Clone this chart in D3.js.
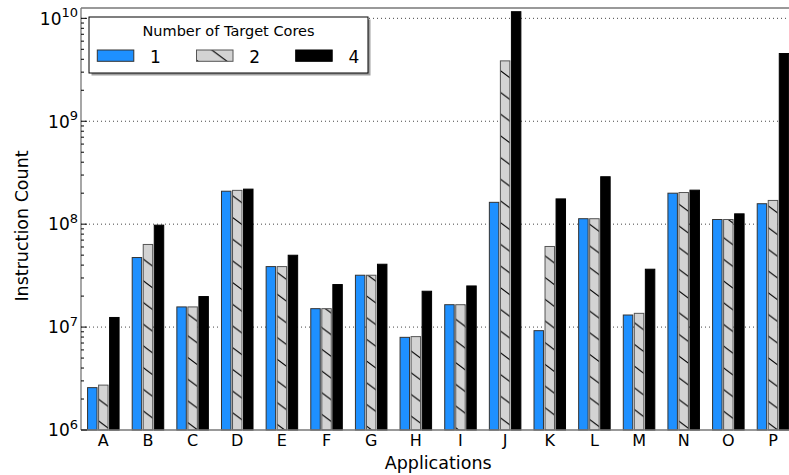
<!DOCTYPE html>
<html>
<head>
<meta charset="utf-8">
<script src="https://cdn.jsdelivr.net/npm/d3@7/dist/d3.min.js"></script>
<style>
  html, body { margin: 0; padding: 0; background: #fff; }
  svg { display: block; font-family: "DejaVu Sans", sans-serif; }
</style>
</head>
<body>
<svg id="chart" width="789" height="475"></svg>
<script>
// ---- data ----
const categories = ["A","B","C","D","E","F","G","H","I","J","K","L","M","N","O","P"];
const cores1 = [2.58e6, 4.74e7, 1.57e7, 2.09e8, 3.87e7, 1.51e7, 3.19e7, 7.95e6, 1.65e7, 1.63e8, 9.23e6, 1.13e8, 1.31e7, 2.00e8, 1.11e8, 1.58e8];
const cores2 = [2.73e6, 6.35e7, 1.57e7, 2.13e8, 3.87e7, 1.51e7, 3.19e7, 8.08e6, 1.65e7, 3.86e9, 6.07e7, 1.13e8, 1.36e7, 2.03e8, 1.11e8, 1.70e8];
const cores4 = [1.24e7, 9.78e7, 1.98e7, 2.19e8, 4.99e7, 2.59e7, 4.08e7, 2.23e7, 2.51e7, 1.16e10, 1.76e8, 2.89e8, 3.65e7, 2.14e8, 1.26e8, 4.55e9];
const seriesNames = ["1", "2", "4"];
const yTickExponents = [6, 7, 8, 9, 10];
const yMin = 1e6, yMax = 1.26e10;

// ---- layout ----
const svg = d3.select("#chart");
const plot = { left: 81, right: 795.3, top: 8, bottom: 430 };

const x = d3.scaleLinear().domain([-0.5, categories.length - 0.5]).range([plot.left, plot.right]);
const y = d3.scaleLog().domain([yMin, yMax]).range([plot.bottom, plot.top]);

const unit = x(1) - x(0);
const barOffset = 0.247;   // in category units
const barWidth = 0.212;

// hatch pattern
const defs = svg.append("defs");
const pat = defs.append("pattern")
  .attr("id", "hatch")
  .attr("patternUnits", "userSpaceOnUse")
  .attr("width", 29).attr("height", 21.7);
pat.append("rect").attr("width", 29).attr("height", 21.7).attr("fill", "#d3d3d3");
pat.append("path").attr("d", "M-29,-21.7L58,43.4M-29,0L29,43.4M0,-21.7L58,21.7")
  .attr("stroke", "#000").attr("stroke-width", 1);

const styles = [
  { fill: "#1e90ff", stroke: "#333" },
  { fill: "url(#hatch)", stroke: "#555" },
  { fill: "#000", stroke: "#000" }
];
const series = [cores1, cores2, cores4];

// gridlines (behind bars)
svg.append("g").selectAll("line")
  .data(yTickExponents.filter(e => e > 6))
  .join("line")
  .attr("x1", plot.left).attr("x2", plot.right)
  .attr("y1", d => y(Math.pow(10, d))).attr("y2", d => y(Math.pow(10, d)))
  .attr("stroke", "#444").attr("stroke-width", 1)
  .attr("stroke-dasharray", "1,3");

// bars
series.forEach((vals, s) => {
  svg.append("g").selectAll("rect")
    .data(vals)
    .join("rect")
    .attr("x", (d, i) => x(i + (s - 1) * barOffset - barWidth / 2))
    .attr("width", barWidth * unit)
    .attr("y", d => y(d))
    .attr("height", d => y(yMin) - y(d))
    .attr("fill", styles[s].fill)
    .attr("stroke", styles[s].stroke)
    .attr("stroke-width", 1);
});

// frame
const frame = svg.append("g").attr("stroke", "#777").attr("stroke-width", 1.3).attr("fill", "none");
frame.append("line").attr("x1", plot.left).attr("x2", plot.right).attr("y1", plot.top).attr("y2", plot.top);
frame.append("line").attr("x1", plot.left).attr("x2", plot.right).attr("y1", plot.bottom).attr("y2", plot.bottom);
frame.append("line").attr("x1", plot.left).attr("x2", plot.left).attr("y1", plot.top).attr("y2", plot.bottom);

// y ticks (major + minor, inward)
const minorTicks = [];
for (let e = 6; e <= 10; e++) {
  for (let m = 2; m <= 9; m++) {
    const v = m * Math.pow(10, e);
    if (v < yMax) minorTicks.push(v);
  }
}
svg.append("g").selectAll("line").data(minorTicks).join("line")
  .attr("x1", plot.left).attr("x2", plot.left + 3)
  .attr("y1", d => y(d)).attr("y2", d => y(d))
  .attr("stroke", "#000").attr("stroke-width", 1);
svg.append("g").selectAll("line").data(yTickExponents).join("line")
  .attr("x1", plot.left).attr("x2", plot.left + 6)
  .attr("y1", d => y(Math.pow(10, d))).attr("y2", d => y(Math.pow(10, d)))
  .attr("stroke", "#000").attr("stroke-width", 1);

// y tick labels
const yl = svg.append("g").selectAll("text").data(yTickExponents).join("text")
  .attr("x", plot.left - 3)
  .attr("y", d => y(Math.pow(10, d)) + 6.3)
  .attr("text-anchor", "end")
  .attr("fill", "#000");
yl.append("tspan").attr("font-size", 17).text("10");
yl.append("tspan").attr("font-size", 13).attr("dy", -7.5).text(d => d);

// x labels
svg.append("g").selectAll("text").data(categories).join("text")
  .attr("x", (d, i) => x(i))
  .attr("y", 445.5)
  .attr("text-anchor", "middle")
  .attr("font-size", 16)
  .text(d => d);

// axis titles
svg.append("text")
  .attr("x", (plot.left + plot.right) / 2).attr("y", 468.5)
  .attr("text-anchor", "middle").attr("font-size", 17.5)
  .text("Applications");
svg.append("text")
  .attr("transform", "translate(28,226) rotate(-90)")
  .attr("text-anchor", "middle").attr("font-size", 17.5)
  .text("Instruction Count");

// legend
const lg = svg.append("g");
lg.append("rect").attr("x", 91.5).attr("y", 19.5).attr("width", 279).attr("height", 56)
  .attr("fill", "#888").attr("opacity", 0.8);
lg.append("rect").attr("x", 89).attr("y", 17).attr("width", 279).attr("height", 56)
  .attr("fill", "#fff").attr("stroke", "#000").attr("stroke-width", 1);
lg.append("text").attr("x", 228.5).attr("y", 36).attr("text-anchor", "middle")
  .attr("font-size", 14.5).text("Number of Target Cores");
seriesNames.forEach((name, s) => {
  const x0 = 97.3 + s * 99.2;
  lg.append("rect").attr("x", x0).attr("y", 50).attr("width", 36.5).attr("height", 11.3)
    .attr("fill", styles[s].fill).attr("stroke", styles[s].stroke).attr("stroke-width", 1);
  lg.append("text").attr("x", x0 + 52.7).attr("y", 62.5).attr("font-size", 17).text(name);
});
</script>
</body>
</html>
